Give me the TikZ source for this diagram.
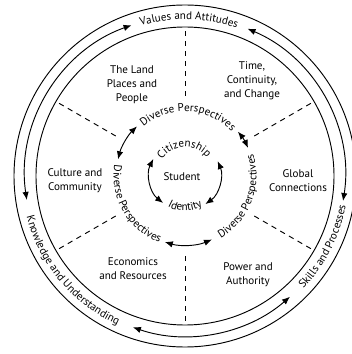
\documentclass[tikz,border=0pt]{standalone}
\usepackage{fontspec}
\setmainfont{PT Sans}
\usetikzlibrary{arrows.meta,decorations.text}
\newcommand\wheelfont{\fontsize{8.3}{10.5}\selectfont}
\begin{document}
\begin{tikzpicture}[x=0.75pt,y=0.75pt,line width=0.7pt,
  both/.style={{Latex[length=6pt,width=4.8pt]}-{Latex[length=6pt,width=4.8pt]}},
  ringlabel/.style={postaction={decorate},decoration={text along path,text align=center,text={|\wheelfont|#1}}},
  sector/.style={align=center,font=\wheelfont}]
\clip (0,0) rectangle (352,354);
\coordinate (c) at (185,178);
\coordinate (core) at (185,179);
% outer rings
\draw (c) circle (171);
\draw (c) circle (149);
\draw[both,shift={(c)}] (188.6:160) arc[start angle=188.6,end angle=109.5,radius=160];
\draw[both,shift={(c)}] (67:160) arc[start angle=67,end angle=-9,radius=160];
\draw[both,shift={(c)}] (251:160) arc[start angle=251,end angle=311,radius=160];
\path[ringlabel=Values and Attitudes,shift={(c)}] (118.5:156.5) arc[start angle=118.5,end angle=58.5,radius=156.5];
\path[ringlabel=Skills and Processes,shift={(c)}] (-67:163.5) arc[start angle=-67,end angle=13,radius=163.5];
\path[ringlabel=Knowledge and Understanding,shift={(c)}] (175:163.5) arc[start angle=175,end angle=265,radius=163.5];
% sectors
\foreach \a in {30,90,...,330}
  \draw[dash pattern=on 4pt off 3.5pt,shift={(c)}] (\a:80) -- (\a:149);
\node[sector] (land) at (132,269) {The Land\\Places and\\People};
\node[sector] (time) at (252,273) {Time,\\Continuity,\\and Change};
\node[sector] (culture) at (75,173.5) {Culture and\\Community};
\node[sector] (global) at (298,173.5) {Global\\Connections};
\node[sector] (econ) at (133,85) {Economics\\and Resources};
\node[sector] (power) at (248,79.5) {Power and\\Authority};
% diverse perspectives
\path[ringlabel=Diverse Perspectives,shift={(c)}] (147:64.5) arc[start angle=147,end angle=27,radius=64.5];
\path[ringlabel=Diverse Perspectives,shift={(c)}] (150:71.5) arc[start angle=150,end angle=270,radius=71.5];
\path[ringlabel=Diverse Perspectives,shift={(c)}] (-81:71.5) arc[start angle=-81,end angle=39,radius=71.5];
\draw[both,shift={(c)}] (134:69) arc[start angle=134,end angle=166,radius=69];
\draw[both,shift={(c)}] (40:69) arc[start angle=40,end angle=24,radius=69];
\draw[both,shift={(c)}] (253:69) arc[start angle=253,end angle=293,radius=69];
% student
\node[font=\wheelfont] (student) at (182,177) {Student};
\path[ringlabel=Citizenship,shift={(core)}] (182:28) arc[start angle=182,end angle=2,radius=28];
\path[ringlabel=Identity,shift={(core)}] (180:36) arc[start angle=180,end angle=360,radius=36];
\draw[both,shift={(core)}] (153:35.5) arc[start angle=153,end angle=232,radius=35.5];
\draw[both,shift={(core)}] (23:35.5) arc[start angle=23,end angle=-55,radius=35.5];
\end{tikzpicture}
\end{document}
